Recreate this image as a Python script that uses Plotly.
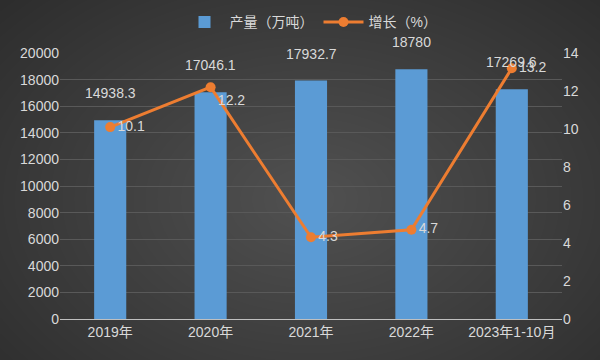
import plotly.graph_objects as go

categories = ["2019年", "2020年", "2021年", "2022年", "2023年1-10月"]
output_vals = [14938.3, 17046.1, 17932.7, 18780, 17269.6]
growth_vals = [10.1, 12.2, 4.3, 4.7, 13.2]
output_labels = ["14938.3", "17046.1", "17932.7", "18780", "17269.6"]
growth_labels = ["10.1", "12.2", "4.3", "4.7", "13.2"]
left_ticks = [0, 2000, 4000, 6000, 8000, 10000, 12000, 14000, 16000, 18000, 20000]
right_ticks = [0, 2, 4, 6, 8, 10, 12, 14]

FONT = "Liberation Sans, Noto Sans CJK SC, sans-serif"
TXT = "#d9d9d9"

fig = go.Figure()
fig.add_trace(go.Bar(
    x=categories, y=output_vals, name="产量（万吨）",
    marker=dict(color="#5b9bd5", line=dict(width=0)),
    yaxis="y",
))
fig.add_trace(go.Scatter(
    x=categories, y=growth_vals, name="增长（%）",
    mode="lines+markers+text",
    text=growth_labels,
    textposition=["middle right", "bottom right", "middle right", "middle right", "middle right"],
    textfont=dict(color=TXT, size=14, family=FONT),
    line=dict(color="#ed7d31", width=3),
    marker=dict(color="#ed7d31", size=10),
    yaxis="y2", cliponaxis=False,
))

annotations = []
for c, v, t in zip(categories, output_vals, output_labels):
    annotations.append(dict(x=c, y=v, xref="x", yref="y", text=t, showarrow=False,
                            yshift=27, font=dict(color=TXT, size=14, family=FONT)))

# radial background glow
shapes = []
n = 36
for i in range(n):
    f = 1 - i / n
    shapes.append(dict(type="circle", xref="paper", yref="paper", layer="below",
                       x0=0.5 - 0.85 * f, x1=0.5 + 0.85 * f,
                       y0=0.45 - 1.1 * f, y1=0.45 + 1.1 * f,
                       fillcolor="rgba(255,255,255,0.0075)", line=dict(width=0)))

fig.update_layout(
    width=600, height=360,
    margin=dict(l=60, r=38, t=53, b=41, autoexpand=False),
    paper_bgcolor="#2c2c2c",
    plot_bgcolor="rgba(0,0,0,0)",
    font=dict(family=FONT, color=TXT, size=14),
    bargap=0.68,
    showlegend=True,
    legend=dict(orientation="h", x=0.5, xanchor="center", y=1.115, yanchor="middle",
                font=dict(size=14, color=TXT), bgcolor="rgba(0,0,0,0)",
                itemwidth=40),
    xaxis=dict(showgrid=False, showline=True, linecolor="#bfbfbf", linewidth=1,
               tickfont=dict(size=14, color=TXT), ticks="", automargin=False),
    yaxis=dict(range=[0, 20000], tickvals=left_ticks,
               ticktext=[str(v) for v in left_ticks], showgrid=True,
               gridcolor="#595959", gridwidth=1, zeroline=False, automargin=False,
               tickfont=dict(size=14, color=TXT), ticks=""),
    yaxis2=dict(range=[0, 14], tickvals=right_ticks,
                ticktext=[str(v) for v in right_ticks], overlaying="y", side="right",
                showgrid=False, zeroline=False, automargin=False,
                tickfont=dict(size=14, color=TXT), ticks=""),
    annotations=annotations,
    shapes=shapes,
)

fig.write_html("out.html",
               config={"displayModeBar": False},
               post_script="document.body.style.margin='0';document.body.style.overflow='hidden';")
